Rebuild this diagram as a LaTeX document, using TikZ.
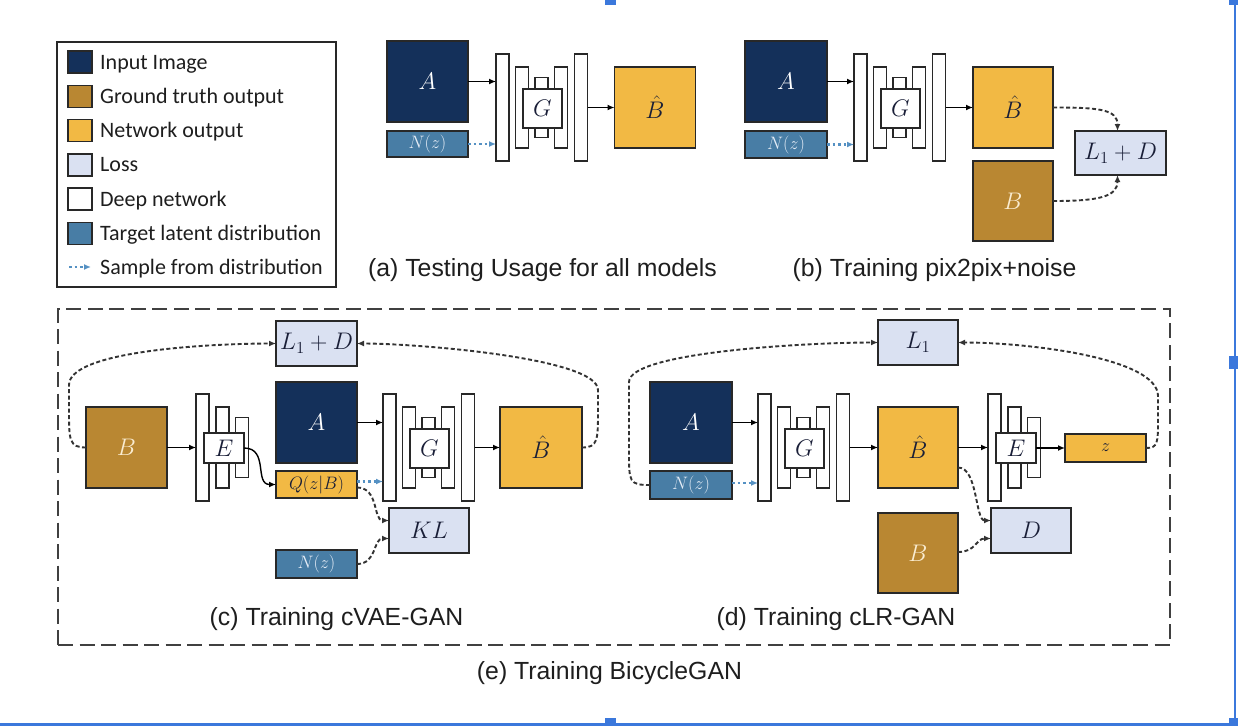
\RequirePackage{fix-cm}
\documentclass[tikz,border=0pt]{standalone}
\usepackage[no-math]{fontspec}
\setmainfont{Liberation Sans}
\newfontfamily\legfont{Carlito}
\usetikzlibrary{arrows.meta}

\definecolor{navy}{RGB}{20,48,90}
\definecolor{gtbrown}{RGB}{185,135,50}
\definecolor{netyel}{RGB}{242,185,68}
\definecolor{losscol}{RGB}{218,225,242}
\definecolor{latcol}{RGB}{72,125,165}
\definecolor{dotblue}{RGB}{85,145,195}
\definecolor{edge}{RGB}{40,40,40}
\definecolor{handle}{RGB}{59,120,220}
\definecolor{captxt}{RGB}{30,30,30}
\definecolor{cream}{RGB}{250,236,208}
\definecolor{lblue}{RGB}{228,236,246}
\definecolor{darktxt}{RGB}{25,30,55}

\tikzset{
  box/.style={draw=edge, line width=1.6pt, inner sep=0pt, outer sep=0pt, font=\fontsize{24}{28}\selectfont},
  sbox/.style={box, font=\fontsize{18}{21}\selectfont},
  imgA/.style={box, fill=navy, text=white, minimum width=81pt, minimum height=81pt},
  imgB/.style={box, fill=gtbrown, text=cream, minimum width=81pt, minimum height=81pt},
  imgBh/.style={box, fill=netyel, text=darktxt, minimum width=81pt, minimum height=81pt},
  lossbox/.style={box, fill=losscol, text=darktxt, minimum width=81pt, minimum height=45pt},
  latbox/.style={sbox, fill=latcol, text=lblue, minimum width=81pt, minimum height=27pt},
  qbox/.style={sbox, fill=netyel, text=darktxt, minimum width=81pt, minimum height=27pt},
  bar/.style={draw=edge, fill=white, line width=1.5pt, minimum width=13pt, inner sep=0pt, outer sep=0pt},
  gbox/.style={box, fill=white, text=darktxt, minimum width=39pt, minimum height=39pt},
  ebox/.style={box, fill=white, text=darktxt, minimum width=40pt, minimum height=30pt},
  swatch/.style={draw=edge, line width=1.5pt, minimum width=24pt, minimum height=22pt, inner sep=0pt},
  legtext/.style={anchor=base west, inner sep=0pt, text=captxt, font=\legfont\fontsize{22}{26}\selectfont},
  captext/.style={anchor=base, inner sep=0pt, text=captxt, font=\fontsize{24.8}{28}\selectfont},
  solidarr/.style={draw=black, line width=1.4pt, -{Latex[length=7pt,width=6pt]}},
  dasharr/.style={draw=black!80, line width=1.9pt, dash pattern=on 4pt off 2.5pt, -{Latex[length=7pt,width=6pt]}},
  dotarr/.style={draw=dotblue, line width=2.2pt, dash pattern=on 2.5pt off 3pt, -{Latex[length=7pt,width=6pt]}},
}

\newcommand\mkgnet[3]{%
  \node[bar, minimum height=107pt] (#11) at ({#2+6.5},#3) {};
  \node[bar, minimum height=81pt] (#12) at ({#2+26},#3) {};
  \node[bar, minimum height=60pt] (#13) at ({#2+45.5},#3) {};
  \node[bar, minimum height=81pt] (#14) at ({#2+65},#3) {};
  \node[bar, minimum height=107pt] (#15) at ({#2+85},#3) {};
  \node[gbox] (#1G) at ({#2+46.5},{#3+1}) {$G$};
}
\newcommand\mkenet[3]{%
  \node[bar, minimum height=107pt] (#11) at ({#2+6.5},#3) {};
  \node[bar, minimum height=81pt] (#12) at ({#2+26.5},#3) {};
  \node[bar, minimum height=60pt] (#13) at ({#2+46},#3) {};
  \node[ebox] (#1E) at ({#2+28},{#3+0.5}) {$E$};
}

\begin{document}
\begin{tikzpicture}[x=1pt,y=-1pt]
\useasboundingbox (0,0) rectangle (1238,726);
\fill[white] (0,0) rectangle (1238,726);

% ---------------- legend
\node[draw=edge, line width=1.8pt, minimum width=279pt, minimum height=245pt, inner sep=0pt] (legend) at (196.5,164.5) {};
\node[swatch, fill=navy] (sw1) at (80,62) {};
\node[swatch, fill=gtbrown] (sw2) at (80,96.3) {};
\node[swatch, fill=netyel] (sw3) at (80,130.6) {};
\node[swatch, fill=losscol] (sw4) at (80,164.9) {};
\node[swatch, fill=white] (sw5) at (80,199.2) {};
\node[swatch, fill=latcol] (sw6) at (80,233.5) {};
\coordinate (lg7s) at (69,267);
\coordinate (lg7e) at (91,267);
\draw[dotarr] (lg7s) -- (lg7e);
\node[legtext] (lt1) at (100,69) {Input Image};
\node[legtext] (lt2) at (100,103.3) {Ground truth output};
\node[legtext] (lt3) at (100,137.6) {Network output};
\node[legtext] (lt4) at (100,171.9) {Loss};
\node[legtext] (lt5) at (100,206.2) {Deep network};
\node[legtext] (lt6) at (100,240.5) {Target latent distribution};
\node[legtext] (lt7) at (100,274.8) {Sample from distribution};

% ---------------- (a)
\node[imgA] (aA) at (427.5,81.5) {$A$};
\node[latbox, minimum height=26pt] (aN) at (427.5,144) {$N(z)$};
\mkgnet{a}{496}{107.5}
\node[imgBh] (aBh) at (655,107.5) {$\hat{B}$};
\draw[solidarr] (aA.east) -- (aA.east -| a1.west);
\draw[dotarr] (aN.east) -- (aN.east -| a1.west);
\draw[solidarr] (a5.east) -- (aBh.west);
\node[captext] (capa) at (542.5,276) {(a) Testing Usage for all models};

% ---------------- (b)
\node[imgA, minimum width=82pt] (bA) at (786,81.5) {$A$};
\node[latbox, minimum width=82pt] (bN) at (786,144.5) {$N(z)$};
\mkgnet{b}{854}{107.5}
\node[imgBh, minimum width=80pt] (bBh) at (1013,107.5) {$\hat{B}$};
\node[imgB, minimum width=80pt, minimum height=80pt] (bB) at (1013,201) {$B$};
\node[lossbox, minimum width=91pt, minimum height=44pt] (bL) at (1120.5,153) {$L_1+D$};
\draw[solidarr] (bA.east) -- (bA.east -| b1.west);
\draw[dotarr] (bN.east) -- (bN.east -| b1.west);
\draw[solidarr] (b5.east) -- (bBh.west);
\draw[dasharr] (bBh.east) .. controls +(45,0) and +(0,-22) .. ([xshift=-3pt]bL.north);
\draw[dasharr] (bB.east) .. controls +(45,0) and +(0,22) .. ([xshift=-3pt]bL.south);
\node[captext] (capb) at (934.5,276) {(b) Training pix2pix+noise};

% ---------------- frame (e)
\node[draw=black!75, line width=2pt, dash pattern=on 15pt off 6.5pt, minimum width=1112pt, minimum height=336pt, inner sep=0pt] (frame) at (614,477) {};
\node[captext] (cape) at (609.5,679) {(e) Training BicycleGAN};

% ---------------- (c)
\node[imgB] (cB) at (126.5,447.5) {$B$};
\mkenet{ce}{196}{447.5}
\node[lossbox] (cL) at (316.5,343.5) {$L_1+D$};
\node[imgA] (cA) at (316.5,422.5) {$A$};
\node[qbox] (cQ) at (316.5,484.5) {$Q(z|B)$};
\node[latbox, minimum height=28pt] (cN) at (316.5,564) {$N(z)$};
\mkgnet{cg}{383}{447.5}
\node[imgBh, minimum width=82pt] (cBh) at (541,447.5) {$\hat{B}$};
\node[lossbox, minimum width=80pt] (cKL) at (429,530.5) {$KL$};
\draw[solidarr] (cB.east) -- (cB.east -| ce1.west);
\draw[solidarr] (ceE.east) .. controls +(25,0) and +(-22,0) .. (cQ.west);
\draw[solidarr] (cA.east) -- (cA.east -| cg1.west);
\draw[dotarr] ([yshift=3pt]cQ.east) -- ([yshift=3pt]cQ.east -| cg1.west);
\draw[solidarr] (cg5.east) -- (cBh.west);
\draw[dasharr] ([yshift=-3pt]cQ.east) .. controls +(22,0) and +(-16,0) .. ([yshift=10pt]cKL.west);
\draw[dasharr] (cN.east) .. controls +(20,0) and +(-16,0) .. ([yshift=-8pt]cKL.west);
\draw[dasharr] (cB.west) .. controls +(-17,0) and +(0,30) .. (69,410) -- (69,385) .. controls +(0,-35) and +(-60,0) .. (cL.west);
\draw[dasharr] (cBh.east) .. controls +(16,0) and +(0,30) .. (598,410) -- (598,390) .. controls +(0,-32) and +(60,0) .. (cL.east);
\node[captext] (capc) at (336.5,625) {(c) Training cVAE-GAN};

% ---------------- (d)
\node[imgA, minimum width=82pt] (dA) at (691,422.5) {$A$};
\node[latbox, minimum width=82pt, minimum height=28pt] (dN) at (691,485) {$N(z)$};
\mkgnet{dg}{758}{447.5}
\node[imgBh, minimum width=80pt] (dBh) at (918,447.5) {$\hat{B}$};
\node[lossbox, minimum width=80pt] (dL) at (918,342.5) {$L_1$};
\node[imgB, minimum width=80pt, minimum height=80pt] (dB) at (918,553) {$B$};
\mkenet{de}{988}{447.5}
\node[qbox, minimum height=28pt] (dz) at (1105.5,448) {$z$};
\node[lossbox, minimum width=80pt] (dD) at (1031,530.5) {$D$};
\draw[solidarr] (dA.east) -- (dA.east -| dg1.west);
\draw[dotarr] ([yshift=2pt]dN.east) -- ([yshift=2pt]dN.east -| dg1.west);
\draw[solidarr] (dg5.east) -- (dBh.west);
\draw[solidarr] (dBh.east) -- (dBh.east -| de1.west);
\draw[solidarr] (deE.east) -- (dz.west);
\draw[dasharr] (dN.west) .. controls +(-21,0) and +(0,30) .. (629,452) -- (629,382) .. controls +(0,-30) and +(-70,0) .. (dL.west);
\draw[dasharr] (dz.east) .. controls +(12,0) and +(0,25) .. (1158,418) -- (1158,396) .. controls +(0,-38) and +(70,0) .. (dL.east);
\draw[dasharr] ([yshift=-20pt]dBh.east) .. controls +(20,0) and +(-16,0) .. ([yshift=10pt]dD.west);
\draw[dasharr] ([yshift=1pt]dB.east) .. controls +(18,0) and +(-15,0) .. ([yshift=-8pt]dD.west);
\node[captext] (capd) at (836,625) {(d) Training cLR-GAN};

% ---------------- selection handles (screenshot)
\draw[handle, line width=2.4pt] (1234.7,3) -- (1234.7,722);
\draw[handle, line width=2.4pt] (0,724.5) -- (1232,724.5);
\fill[handle] (605,0) rectangle (616,5);
\fill[handle] (1229,0) rectangle (1238,5);
\fill[handle] (1229,356) rectangle (1238,369);
\fill[handle] (605,718) rectangle (616,726);
\fill[handle] (1229,718) rectangle (1238,726);
\end{tikzpicture}
\end{document}
